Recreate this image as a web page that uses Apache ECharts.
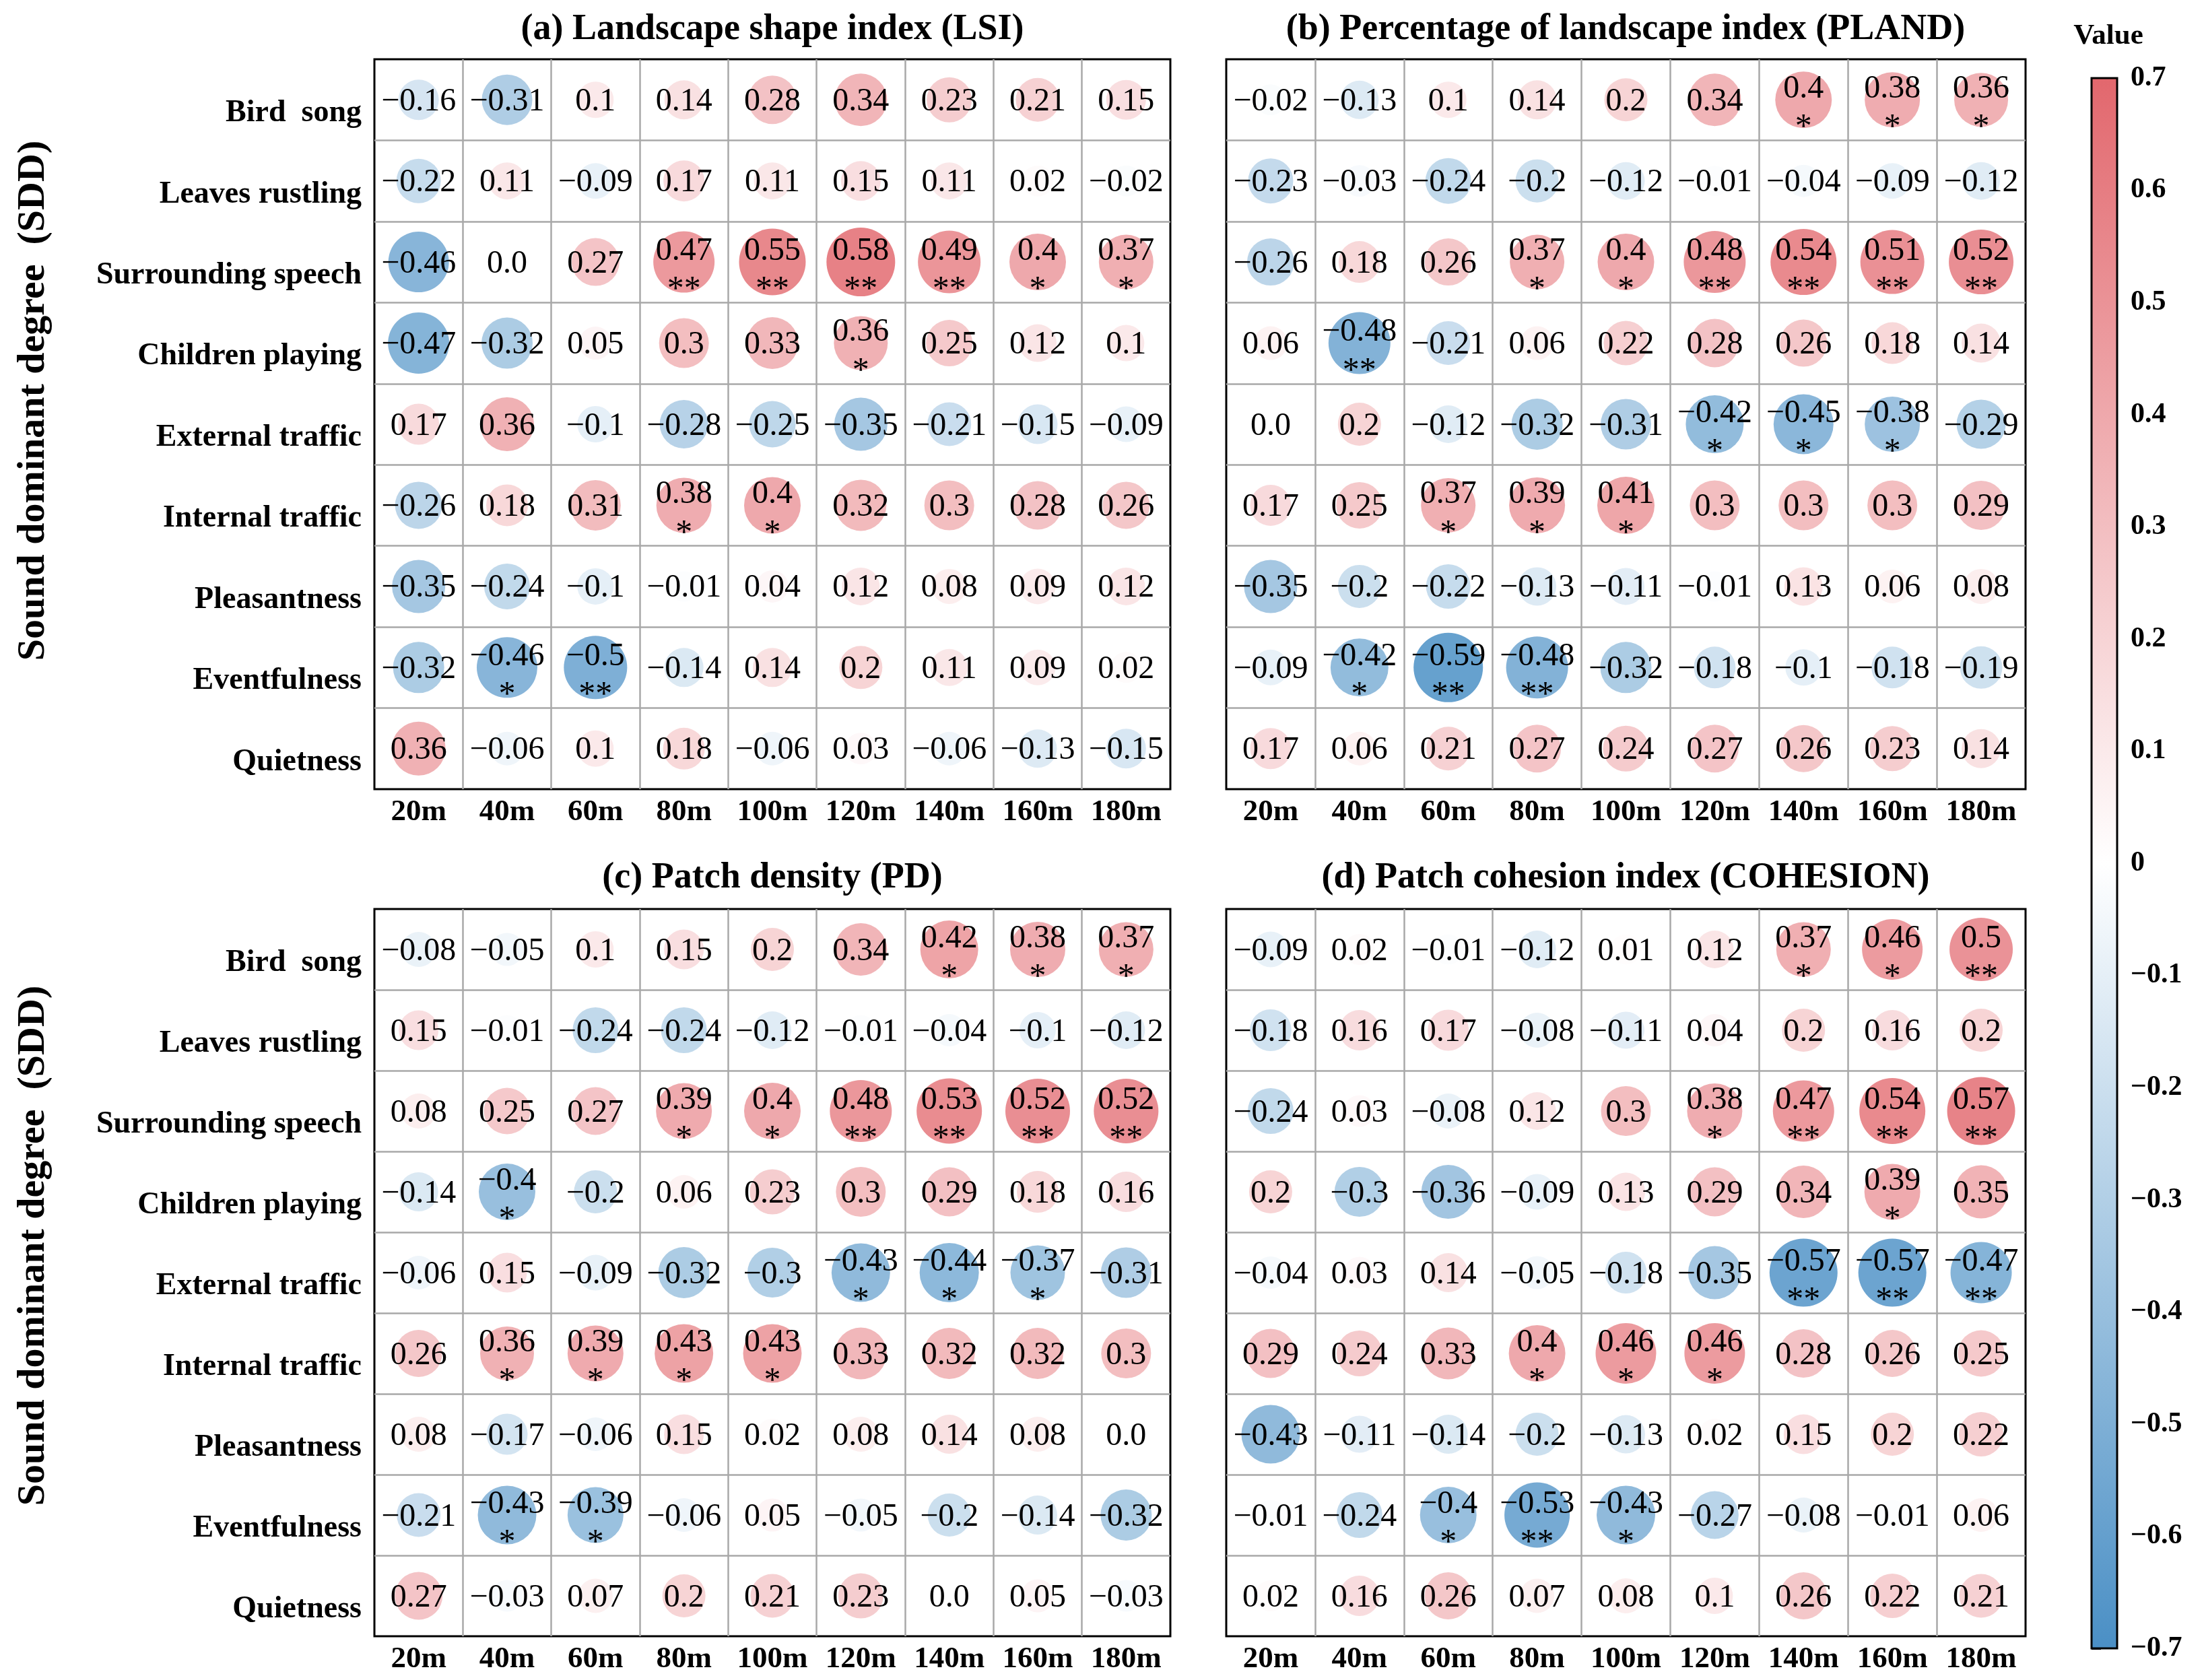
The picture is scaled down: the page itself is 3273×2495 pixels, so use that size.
<!DOCTYPE html>
<html>
<head>
<meta charset="utf-8">
<script src="https://cdn.jsdelivr.net/npm/echarts@6/dist/echarts.min.js"></script>
<style>html,body{margin:0;padding:0;background:#fff}#chart{width:3273px;height:2495px}</style>
</head>
<body>
<div id="chart"></div>
<script>
// ---------------- data ----------------
const rowLabels = ['Bird  song','Leaves rustling','Surrounding speech','Children playing','External traffic','Internal traffic','Pleasantness','Eventfulness','Quietness'];
const colLabels = ['20m','40m','60m','80m','100m','120m','140m','160m','180m'];
const panelTitles = ['(a) Landscape shape index (LSI)','(b) Percentage of landscape index (PLAND)','(c) Patch density (PD)','(d) Patch cohesion index (COHESION)'];
const yAxisTitle = 'Sound dominant degree  (SDD)';
const colorbarTitle = 'Value';
const colorbarMin = -0.7, colorbarMax = 0.7, colorbarStep = 0.1;

const lsiValues = [
  [-0.16,-0.31,0.1,0.14,0.28,0.34,0.23,0.21,0.15],
  [-0.22,0.11,-0.09,0.17,0.11,0.15,0.11,0.02,-0.02],
  [-0.46,0.0,0.27,0.47,0.55,0.58,0.49,0.4,0.37],
  [-0.47,-0.32,0.05,0.3,0.33,0.36,0.25,0.12,0.1],
  [0.17,0.36,-0.1,-0.28,-0.25,-0.35,-0.21,-0.15,-0.09],
  [-0.26,0.18,0.31,0.38,0.4,0.32,0.3,0.28,0.26],
  [-0.35,-0.24,-0.1,-0.01,0.04,0.12,0.08,0.09,0.12],
  [-0.32,-0.46,-0.5,-0.14,0.14,0.2,0.11,0.09,0.02],
  [0.36,-0.06,0.1,0.18,-0.06,0.03,-0.06,-0.13,-0.15]
];
const lsiStars = [
  [0,0,0,0,0,0,0,0,0],
  [0,0,0,0,0,0,0,0,0],
  [0,0,0,2,2,2,2,1,1],
  [0,0,0,0,0,1,0,0,0],
  [0,0,0,0,0,0,0,0,0],
  [0,0,0,1,1,0,0,0,0],
  [0,0,0,0,0,0,0,0,0],
  [0,1,2,0,0,0,0,0,0],
  [0,0,0,0,0,0,0,0,0]
];
const plandValues = [
  [-0.02,-0.13,0.1,0.14,0.2,0.34,0.4,0.38,0.36],
  [-0.23,-0.03,-0.24,-0.2,-0.12,-0.01,-0.04,-0.09,-0.12],
  [-0.26,0.18,0.26,0.37,0.4,0.48,0.54,0.51,0.52],
  [0.06,-0.48,-0.21,0.06,0.22,0.28,0.26,0.18,0.14],
  [0.0,0.2,-0.12,-0.32,-0.31,-0.42,-0.45,-0.38,-0.29],
  [0.17,0.25,0.37,0.39,0.41,0.3,0.3,0.3,0.29],
  [-0.35,-0.2,-0.22,-0.13,-0.11,-0.01,0.13,0.06,0.08],
  [-0.09,-0.42,-0.59,-0.48,-0.32,-0.18,-0.1,-0.18,-0.19],
  [0.17,0.06,0.21,0.27,0.24,0.27,0.26,0.23,0.14]
];
const plandStars = [
  [0,0,0,0,0,0,1,1,1],
  [0,0,0,0,0,0,0,0,0],
  [0,0,0,1,1,2,2,2,2],
  [0,2,0,0,0,0,0,0,0],
  [0,0,0,0,0,1,1,1,0],
  [0,0,1,1,1,0,0,0,0],
  [0,0,0,0,0,0,0,0,0],
  [0,1,2,2,0,0,0,0,0],
  [0,0,0,0,0,0,0,0,0]
];
const pdValues = [
  [-0.08,-0.05,0.1,0.15,0.2,0.34,0.42,0.38,0.37],
  [0.15,-0.01,-0.24,-0.24,-0.12,-0.01,-0.04,-0.1,-0.12],
  [0.08,0.25,0.27,0.39,0.4,0.48,0.53,0.52,0.52],
  [-0.14,-0.4,-0.2,0.06,0.23,0.3,0.29,0.18,0.16],
  [-0.06,0.15,-0.09,-0.32,-0.3,-0.43,-0.44,-0.37,-0.31],
  [0.26,0.36,0.39,0.43,0.43,0.33,0.32,0.32,0.3],
  [0.08,-0.17,-0.06,0.15,0.02,0.08,0.14,0.08,0.0],
  [-0.21,-0.43,-0.39,-0.06,0.05,-0.05,-0.2,-0.14,-0.32],
  [0.27,-0.03,0.07,0.2,0.21,0.23,0.0,0.05,-0.03]
];
const pdStars = [
  [0,0,0,0,0,0,1,1,1],
  [0,0,0,0,0,0,0,0,0],
  [0,0,0,1,1,2,2,2,2],
  [0,1,0,0,0,0,0,0,0],
  [0,0,0,0,0,1,1,1,0],
  [0,1,1,1,1,0,0,0,0],
  [0,0,0,0,0,0,0,0,0],
  [0,1,1,0,0,0,0,0,0],
  [0,0,0,0,0,0,0,0,0]
];
const cohesionValues = [
  [-0.09,0.02,-0.01,-0.12,0.01,0.12,0.37,0.46,0.5],
  [-0.18,0.16,0.17,-0.08,-0.11,0.04,0.2,0.16,0.2],
  [-0.24,0.03,-0.08,0.12,0.3,0.38,0.47,0.54,0.57],
  [0.2,-0.3,-0.36,-0.09,0.13,0.29,0.34,0.39,0.35],
  [-0.04,0.03,0.14,-0.05,-0.18,-0.35,-0.57,-0.57,-0.47],
  [0.29,0.24,0.33,0.4,0.46,0.46,0.28,0.26,0.25],
  [-0.43,-0.11,-0.14,-0.2,-0.13,0.02,0.15,0.2,0.22],
  [-0.01,-0.24,-0.4,-0.53,-0.43,-0.27,-0.08,-0.01,0.06],
  [0.02,0.16,0.26,0.07,0.08,0.1,0.26,0.22,0.21]
];
const cohesionStars = [
  [0,0,0,0,0,0,1,1,2],
  [0,0,0,0,0,0,0,0,0],
  [0,0,0,0,0,1,2,2,2],
  [0,0,0,0,0,0,0,1,0],
  [0,0,0,0,0,0,2,2,2],
  [0,0,0,1,1,1,0,0,0],
  [0,0,0,0,0,0,0,0,0],
  [0,0,1,2,1,0,0,0,0],
  [0,0,0,0,0,0,0,0,0]
];
const panelValues = [lsiValues, plandValues, pdValues, cohesionValues];
const panelStars = [lsiStars, plandStars, pdStars, cohesionStars];

// ---------------- style / layout ----------------
const FONT = 'Liberation Serif';
const cmap = ['#4a8fc5', '#ffffff', '#e2676d'];
const gridLayout = [
  {left: 556, top: 88, width: 1182, height: 1084},
  {left: 1821, top: 88, width: 1187, height: 1084},
  {left: 556, top: 1350, width: 1182, height: 1080},
  {left: 1821, top: 1350, width: 1187, height: 1080}
];
const cbarLayout = {left: 3106, top: 116, width: 38, height: 2332};

function fmt(v) {
  let s = Number.isInteger(v) ? v.toFixed(1) : String(v);
  return s.replace('-', '\u2212');
}

function renderCell(params, api) {
  const v = api.value(2), s = api.value(3);
  const p = api.coord([api.value(0), api.value(1)]);
  const r = (44 + 100 * Math.abs(v)) / 2;
  const children = [
    {type: 'circle', shape: {cx: p[0], cy: p[1], r: r}, style: {fill: api.visual('color')}},
    {type: 'text', x: p[0], y: p[1] + (s ? -16 : 3),
      style: {text: fmt(v), fontFamily: FONT, fontSize: 48, fill: '#000', align: 'center', verticalAlign: 'middle'}}
  ];
  if (s) children.push({type: 'text', x: p[0], y: p[1] + 42,
    style: {text: '*'.repeat(s), fontFamily: FONT, fontSize: 50, fill: '#000', align: 'center', verticalAlign: 'middle'}});
  return {type: 'group', children: children};
}

const grids = [], xAxes = [], yAxes = [], series = [], cellSeriesIdx = [];
gridLayout.forEach((g, i) => {
  grids.push(Object.assign({show: true, borderColor: '#000', borderWidth: 3, backgroundColor: 'transparent', containLabel: false}, g));
  xAxes.push({
    gridIndex: i, type: 'category', data: colLabels,
    axisLine: {show: false}, axisTick: {show: false},
    axisLabel: {interval: 0, margin: 12, fontFamily: FONT, fontWeight: 'bold', fontSize: 45, color: '#000'},
    splitLine: {show: true, interval: 0, showMinLine: false, showMaxLine: false, lineStyle: {color: '#a8a8a8', width: 2.5}}
  });
  yAxes.push({
    gridIndex: i, type: 'category', data: rowLabels, inverse: true,
    axisLine: {show: false}, axisTick: {show: false},
    axisLabel: {show: i % 2 === 0, interval: 0, margin: 19,
      formatter: v => '{r|' + v + '}',
      rich: {r: {fontFamily: FONT, fontWeight: 'bold', fontSize: 46, color: '#000', padding: [40, 0, 0, 0]}}},
    splitLine: {show: true, interval: 0, showMinLine: false, showMaxLine: false, lineStyle: {color: '#a8a8a8', width: 2.5}}
  });
  const vals = panelValues[i], st = panelStars[i];
  const cells = [];
  vals.forEach((row, r) => row.forEach((v, c) => cells.push([c, r, v, st[r][c]])));
  cellSeriesIdx.push(series.length);
  series.push({
    type: 'custom', xAxisIndex: i, yAxisIndex: i, data: cells,
    dimensions: ['x', 'y', 'value', 'stars'],
    encode: {x: 0, y: 1},
    renderItem: renderCell,
    silent: true, z: 3
  });
});

// colorbar
grids.push(Object.assign({show: false}, cbarLayout));
xAxes.push({gridIndex: 4, type: 'value', min: 0, max: 1, show: false});
yAxes.push({
  gridIndex: 4, type: 'value', min: colorbarMin, max: colorbarMax, interval: colorbarStep, position: 'right',
  axisLine: {show: false},
  axisTick: {show: true, length: 14, lineStyle: {color: '#000', width: 3}},
  splitLine: {show: false},
  axisLabel: {margin: 20, fontFamily: FONT, fontWeight: 'bold', fontSize: 42, color: '#000',
    formatter: v => { const r = Math.round(v * 10) / 10; if (r === 0) return '0'; return r < 0 ? '\u2212' + Math.abs(r).toFixed(1) : r.toFixed(1); }}
});
series.push({
  type: 'custom', xAxisIndex: 4, yAxisIndex: 4, silent: true,
  data: [[0, colorbarMin, 1, colorbarMax]],
  renderItem: (params, api) => {
    const p1 = api.coord([api.value(0), api.value(3)]);
    const p2 = api.coord([api.value(2), api.value(1)]);
    return {
      type: 'rect',
      shape: {x: p1[0], y: p1[1], width: p2[0] - p1[0], height: p2[1] - p1[1]},
      style: {
        fill: new echarts.graphic.LinearGradient(0, 0, 0, 1, [
          {offset: 0, color: cmap[2]}, {offset: 0.5, color: cmap[1]}, {offset: 1, color: cmap[0]}
        ]),
        stroke: '#000', lineWidth: 3
      }
    };
  }
});

const titleCenters = [[1147, 44], [2414, 44], [1147, 1304], [2414, 1304]];
const graphics = panelTitles.map((t, i) => ({
  type: 'text', x: titleCenters[i][0], y: titleCenters[i][1],
  style: {text: t, fontFamily: FONT, fontWeight: 'bold', fontSize: 54, fill: '#000', align: 'center', verticalAlign: 'middle'}
}));
[595, 1850].forEach(y => graphics.push({
  type: 'text', x: 50, y: y, rotation: Math.PI / 2,
  style: {text: yAxisTitle, fontFamily: FONT, fontWeight: 'bold', fontSize: 58, fill: '#000', align: 'center', verticalAlign: 'middle'}
}));
graphics.push({
  type: 'text', x: 3131, y: 54,
  style: {text: colorbarTitle, fontFamily: FONT, fontWeight: 'bold', fontSize: 43, fill: '#000', align: 'center', verticalAlign: 'middle'}
});

const chart = echarts.init(document.getElementById('chart'), null, {renderer: 'canvas'});
chart.setOption({
  backgroundColor: '#fff',
  animation: false,
  grid: grids, xAxis: xAxes, yAxis: yAxes,
  visualMap: {type: 'continuous', show: false, min: colorbarMin, max: colorbarMax, dimension: 2, seriesIndex: cellSeriesIdx, inRange: {color: cmap}},
  graphic: graphics,
  series: series
});
</script>
</body>
</html>
